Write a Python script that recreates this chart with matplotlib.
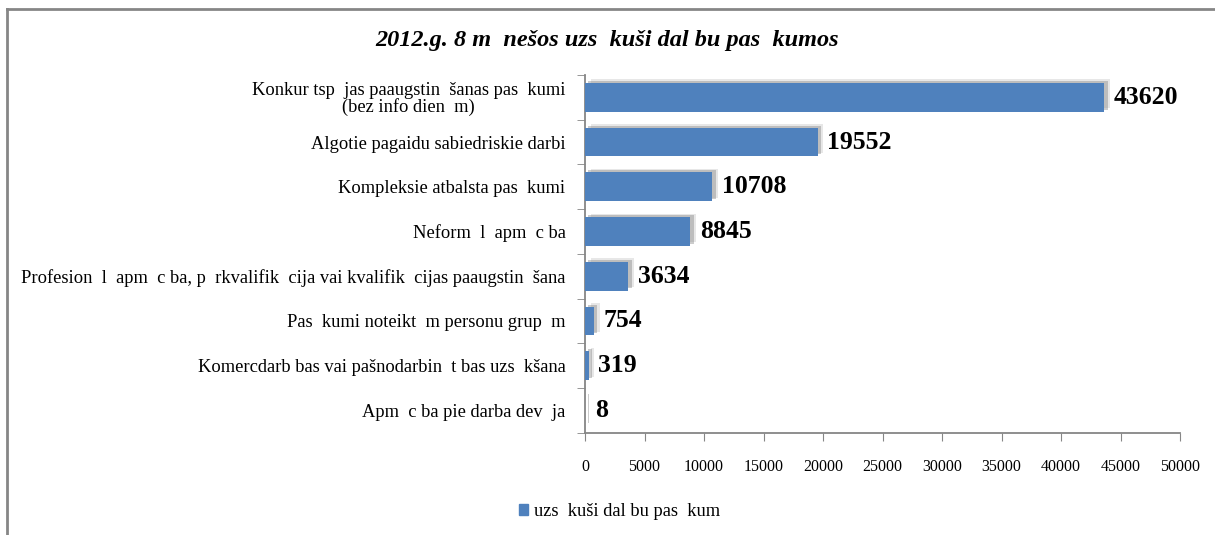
import matplotlib
matplotlib.use('Agg')
import matplotlib.pyplot as plt
import matplotlib.patheffects as pe
from matplotlib.lines import Line2D
from matplotlib.patches import Patch

plt.rcParams['font.family'] = ['Liberation Serif', 'DejaVu Serif']

categories = [
    'Konkur tsp  jas paaugstin  šanas pas  kumi\n(bez info dien  m)',
    'Algotie pagaidu sabiedriskie darbi',
    'Kompleksie atbalsta pas  kumi',
    'Neform  l  apm  c ba',
    'Profesion  l  apm  c ba, p  rkvalifik  cija vai kvalifik  cijas paaugstin  šana',
    'Pas  kumi noteikt  m personu grup  m',
    'Komercdarb bas vai pašnodarbin  t bas uzs  kšana',
    'Apm  c ba pie darba dev  ja',
]
values = [43620, 19552, 10708, 8845, 3634, 754, 319, 8]
xticks = [0, 5000, 10000, 15000, 20000, 25000, 30000, 35000, 40000, 45000, 50000]
title = '2012.g. 8 m  nešos uzs  kuši dal bu pas  kumos'
series_name = 'uzs  kuši dal bu pas  kum'

bar_color = '#4F81BD'
axis_color = '#868686'

fig = plt.figure(figsize=(12.15, 5.35), dpi=100)
ax = fig.add_axes([0.4815, 0.191, 0.4897, 0.669])

ypos = list(range(len(values)))[::-1]
bars = ax.barh(ypos, values, height=0.64, color=bar_color, zorder=3)
for b in bars:
    b.set_path_effects([
        pe.SimplePatchShadow(offset=(4, 2.5), shadow_rgbFace='#b0b0b0', alpha=0.3),
        pe.SimplePatchShadow(offset=(2.5, 1.5), shadow_rgbFace='#808080', alpha=0.4),
        pe.Normal(),
    ])

for y, v in zip(ypos, values):
    ax.text(v + 800, y, str(v), va='center', ha='left', fontsize=18.5,
            fontweight='bold', color='black')

ax.set_xlim(0, 50000)
ax.set_ylim(-0.5, len(values) - 0.5)
ax.set_xticks(xticks)
ax.set_xticklabels([str(t) for t in xticks], fontsize=11.5)
ax.set_yticks(ypos)
ax.set_yticklabels(categories, fontsize=13.3, linespacing=0.95)
ax.set_yticks([i - 0.5 for i in range(len(values) + 1)], minor=True)
ax.tick_params(axis='y', which='major', length=0, pad=14)
ax.tick_params(axis='y', which='minor', length=6, color=axis_color, direction='out')
ax.tick_params(axis='x', length=6, color=axis_color, direction='out', pad=13)
for lbl in ax.get_yticklabels():
    lbl.set_multialignment('center')

for s in ['top', 'right']:
    ax.spines[s].set_visible(False)
for s in ['left', 'bottom']:
    ax.spines[s].set_color(axis_color)
    ax.spines[s].set_linewidth(1.3)

fig.text(0.5, 0.925, title, ha='center', va='center', fontsize=17.5,
         fontweight='bold', fontstyle='italic')

fig.legend(handles=[Patch(color=bar_color)], labels=[series_name], loc='center',
           bbox_to_anchor=(0.51, 0.044), frameon=False, fontsize=13.3,
           handlelength=0.5, handleheight=0.5, handletextpad=0.3)

# chart frame (top and left edges visible)
fig.add_artist(Line2D([7 / 1215, 7 / 1215], [0, 1 - 9 / 535],
                      color=axis_color, lw=2, transform=fig.transFigure))
fig.add_artist(Line2D([7 / 1215, 1], [1 - 9 / 535, 1 - 9 / 535],
                      color=axis_color, lw=2, transform=fig.transFigure))

fig.savefig('out.png', dpi=100, facecolor='white')
